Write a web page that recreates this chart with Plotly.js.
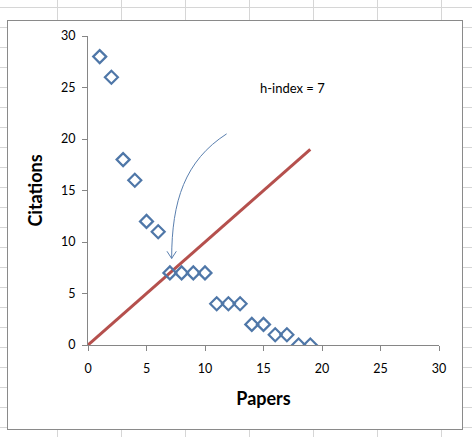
<!DOCTYPE html>
<html>
<head>
<meta charset="utf-8">
<script src="https://cdn.plot.ly/plotly-3.0.1.min.js"></script>
<style>
  html, body { margin: 0; padding: 0; width: 472px; height: 437px; overflow: hidden; background: #fff; }
  #sheet { position: absolute; left: 0; top: 0; width: 472px; height: 437px;
    background-image: linear-gradient(to right, #d6d6d6 1px, transparent 1px),
                      linear-gradient(to bottom, #d6d6d6 1px, transparent 1px);
    background-size: 64px 20px; background-position: 57px 7px; }
  #frame { position: absolute; left: 7px; top: 20px; width: 456px; height: 410px;
    box-sizing: border-box; border: 1px solid #8a8a8a; background: #fff; }
  #chart { position: absolute; left: 0; top: 0; width: 454px; height: 408px; }
</style>
</head>
<body>
<div id="sheet"></div>
<div id="frame"><div id="chart"></div></div>
<script>
// Data
const papers    = [1, 2, 3, 4, 5, 6, 7, 8, 9, 10, 11, 12, 13, 14, 15, 16, 17, 18, 19];
const citations = [28, 26, 18, 16, 12, 11, 7, 7, 7, 7, 4, 4, 4, 2, 2, 1, 1, 0, 0];
const lineX = [0, 1, 2, 3, 4, 5, 6, 7, 8, 9, 10, 11, 12, 13, 14, 15, 16, 17, 18, 19];
const lineY = [0, 1, 2, 3, 4, 5, 6, 7, 8, 9, 10, 11, 12, 13, 14, 15, 16, 17, 18, 19];
const tickVals = [0, 5, 10, 15, 20, 25, 30];
const hLabel = "h-index = 7";

const font = "Lato, 'Open Sans', sans-serif";

const traces = [
  { x: lineX, y: lineY, mode: "lines", type: "scatter",
    line: { color: "#B5504D", width: 3 }, hoverinfo: "skip" },
  { x: papers, y: citations, mode: "markers", type: "scatter",
    marker: { symbol: "diamond-open", size: 10, color: "#4F77A8", line: { width: 2.2, color: "#4F77A8" } } }
];

const layout = {
  width: 454, height: 408,
  margin: { l: 80, r: 23, t: 15, b: 84, pad: 0 },
  paper_bgcolor: "#ffffff", plot_bgcolor: "#ffffff",
  showlegend: false,
  font: { family: font, size: 12, color: "#000" },
  xaxis: {
    range: [0, 30], tickvals: tickVals, ticktext: tickVals.map(String),
    showgrid: false, zeroline: false, showline: true, linecolor: "#868686", linewidth: 1,
    ticks: "outside", ticklen: 5, tickcolor: "#868686", ticklabelstandoff: 7,
    tickfont: { family: font, size: 12.5, color: "#000" },
    title: { text: "Papers", font: { family: font, size: 18, color: "#000", weight: "bold" }, standoff: 17 }
  },
  yaxis: {
    range: [0, 30], tickvals: tickVals, ticktext: tickVals.map(String),
    showgrid: false, zeroline: false, showline: true, linecolor: "#868686", linewidth: 1,
    ticks: "outside", ticklen: 5, tickcolor: "#868686", ticklabelstandoff: 4,
    tickfont: { family: font, size: 12.5, color: "#000" },
    title: { text: "Citations", font: { family: font, size: 18, color: "#000", weight: "bold" }, standoff: 13 }
  },
  annotations: [
    { x: 17.5, y: 25, xref: "x", yref: "y", text: hLabel, showarrow: false,
      font: { family: font, size: 13, color: "#000" } }
  ],
  shapes: [
    { type: "path", xref: "x", yref: "y",
      path: "M 11.85,20.5 C 8.3,17.9 7.15,14.0 7.15,8.4",
      line: { color: "#5A7FAF", width: 1 } },
    { type: "path", xref: "x", yref: "y",
      path: "M 6.75,9.1 L 7.15,8.4 L 7.55,9.1",
      line: { color: "#5A7FAF", width: 1 } }
  ]
};

Plotly.newPlot("chart", traces, layout, { staticPlot: true, displayModeBar: false });
</script>
</body>
</html>
